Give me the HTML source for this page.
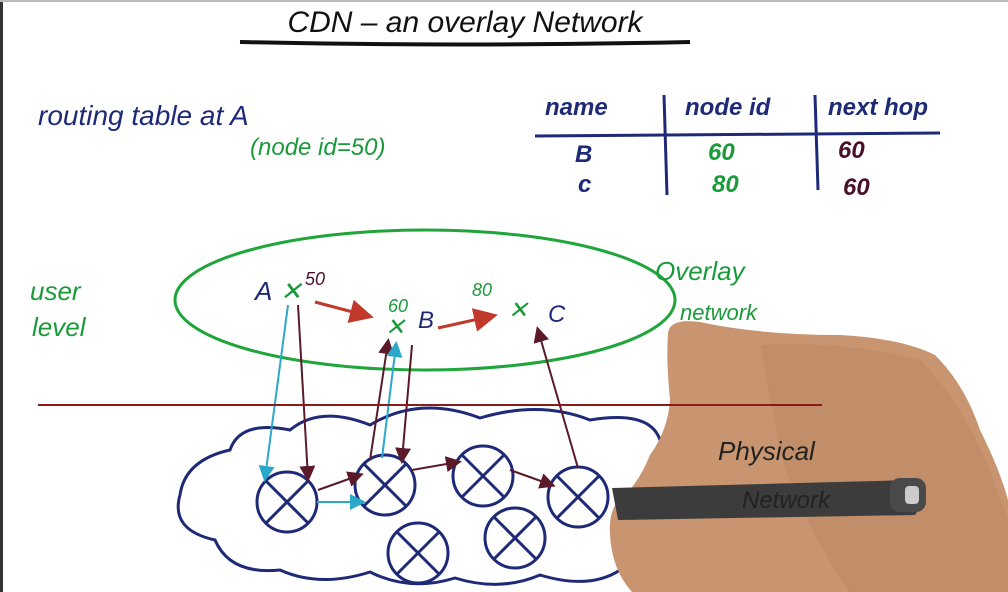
<!DOCTYPE html>
<html><head><meta charset="utf-8">
<style>
html,body{margin:0;padding:0;background:#fff;width:1008px;height:592px;overflow:hidden}
svg{display:block}
text{font-family:"Liberation Sans",sans-serif}
</style></head>
<body>
<svg width="1008" height="592" viewBox="0 0 1008 592">
<defs>
<marker id="ar" markerWidth="8" markerHeight="8" refX="6" refY="4" orient="auto"><path d="M0,0 L8,4 L0,8 z" fill="#c0392b"/></marker>
<marker id="ab" markerWidth="8" markerHeight="8" refX="6" refY="4" orient="auto"><path d="M0,0 L8,4 L0,8 z" fill="#2aa7c9"/></marker>
<marker id="am" markerWidth="8" markerHeight="8" refX="6" refY="4" orient="auto"><path d="M0,0 L8,4 L0,8 z" fill="#5a1a2a"/></marker>
</defs>
<rect width="1008" height="592" fill="#fff"/>
<rect x="0" y="0" width="3" height="592" fill="#333"/>
<rect x="0" y="0" width="1008" height="2" fill="#bbb"/>
<g>
<text x="465" y="32" text-anchor="middle" font-size="30" fill="#111" font-style="italic">CDN – an overlay Network</text>
<path d="M240,42 Q460,47 690,42" stroke="#111" stroke-width="4" fill="none"/>
</g>
<text x="38" y="125" font-size="28" fill="#1e2a78" font-style="italic">routing table at A</text>
<text x="250" y="155" font-size="24" fill="#1a9a3a" font-style="italic">(node id=50)</text>
<g font-style="italic" font-size="24" font-weight="bold">
<text x="545" y="115" fill="#1e2a78">name</text>
<text x="685" y="115" fill="#1e2a78">node id</text>
<text x="828" y="115" fill="#1e2a78">next hop</text>
<line x1="535" y1="136" x2="940" y2="133" stroke="#1e2a78" stroke-width="3"/>
<line x1="664" y1="95" x2="667" y2="195" stroke="#1e2a78" stroke-width="3"/>
<line x1="815" y1="95" x2="818" y2="190" stroke="#1e2a78" stroke-width="3"/>
<text x="575" y="162" fill="#1e2a78">B</text><text x="708" y="160" fill="#1a9a3a">60</text><text x="838" y="158" fill="#4a1028">60</text>
<text x="578" y="192" fill="#1e2a78">c</text><text x="712" y="192" fill="#1a9a3a">80</text><text x="843" y="195" fill="#4a1028">60</text>
</g>
<text x="30" y="300" font-size="26" fill="#1a9a3a" font-style="italic">user</text>
<text x="32" y="336" font-size="26" fill="#1a9a3a" font-style="italic">level</text>
<ellipse cx="425" cy="300" rx="250" ry="70" fill="none" stroke="#1fa53a" stroke-width="3"/>
<text x="655" y="280" font-size="26" fill="#1a9a3a" font-style="italic">Overlay</text>
<g font-style="italic">
<text x="255" y="300" font-size="26" fill="#1e2a78">A</text><text x="280" y="300" font-size="26" fill="#1a9a3a">✕</text><text x="305" y="285" font-size="18" fill="#4a1028">50</text>
<text x="385" y="335" font-size="24" fill="#1a9a3a">✕</text><text x="388" y="312" font-size="18" fill="#1a9a3a">60</text><text x="418" y="328" font-size="24" fill="#1e2a78">B</text>
<text x="508" y="318" font-size="24" fill="#1a9a3a">✕</text><text x="472" y="296" font-size="18" fill="#1a9a3a">80</text><text x="548" y="322" font-size="24" fill="#1e2a78">C</text>
<line x1="315" y1="302" x2="368" y2="316" stroke="#c0392b" stroke-width="3" marker-end="url(#ar)"/>
<line x1="438" y1="328" x2="492" y2="316" stroke="#c0392b" stroke-width="3" marker-end="url(#ar)"/>
</g>
<path d="M230,450 Q240,420 290,430 Q320,405 370,425 Q420,395 480,418 Q540,400 590,420 Q650,410 660,440 Q700,460 690,500 Q720,520 690,545 Q680,575 620,570 Q590,590 540,575 Q500,592 455,578 Q410,592 370,572 Q320,588 280,570 Q230,575 215,540 Q170,530 180,495 Q185,460 230,450 Z" fill="none" stroke="#1e2a78" stroke-width="3"/>
<g stroke="#1e2a78" stroke-width="3" fill="none">
<g transform="translate(287,502)"><circle r="30"/><line x1="-21" y1="-21" x2="21" y2="21"/><line x1="21" y1="-21" x2="-21" y2="21"/></g>
<g transform="translate(385,485)"><circle r="30"/><line x1="-21" y1="-21" x2="21" y2="21"/><line x1="21" y1="-21" x2="-21" y2="21"/></g>
<g transform="translate(483,476)"><circle r="30"/><line x1="-21" y1="-21" x2="21" y2="21"/><line x1="21" y1="-21" x2="-21" y2="21"/></g>
<g transform="translate(578,497)"><circle r="30"/><line x1="-21" y1="-21" x2="21" y2="21"/><line x1="21" y1="-21" x2="-21" y2="21"/></g>
<g transform="translate(418,553)"><circle r="30"/><line x1="-21" y1="-21" x2="21" y2="21"/><line x1="21" y1="-21" x2="-21" y2="21"/></g>
<g transform="translate(515,538)"><circle r="30"/><line x1="-21" y1="-21" x2="21" y2="21"/><line x1="21" y1="-21" x2="-21" y2="21"/></g>
</g>
<g stroke-width="2" fill="none">
<line x1="288" y1="305" x2="265" y2="478" stroke="#2aa7c9" marker-end="url(#ab)"/>
<line x1="298" y1="305" x2="308" y2="478" stroke="#5a1a2a" marker-end="url(#am)"/>
<line x1="317" y1="502" x2="362" y2="502" stroke="#2aa7c9" marker-end="url(#ab)"/>
<line x1="370" y1="460" x2="388" y2="342" stroke="#5a1a2a" marker-end="url(#am)"/>
<line x1="382" y1="458" x2="396" y2="345" stroke="#2aa7c9" marker-end="url(#ab)"/>
<line x1="412" y1="345" x2="402" y2="460" stroke="#5a1a2a" marker-end="url(#am)"/>
<line x1="318" y1="490" x2="360" y2="475" stroke="#5a1a2a" marker-end="url(#am)"/>
<line x1="412" y1="470" x2="458" y2="462" stroke="#5a1a2a" marker-end="url(#am)"/>
<line x1="510" y1="470" x2="552" y2="485" stroke="#5a1a2a" marker-end="url(#am)"/>
<line x1="578" y1="468" x2="538" y2="330" stroke="#5a1a2a" marker-end="url(#am)"/>
</g>
<g>
<path d="M668,333 Q670,318 700,322 Q760,335 840,335 Q900,338 935,355 Q965,385 980,430 Q1000,470 1008,500 L1008,592 L632,592 Q612,570 610,535 Q608,505 625,495 Q640,480 650,455 Q668,430 670,400 Q666,360 668,333 Z" fill="#c99570"/>
<path d="M760,345 Q840,340 920,360 Q960,400 990,470 L1008,520 L1008,592 L850,592 Q800,520 780,450 Z" fill="#b98462" opacity="0.45"/>
<path d="M612,488 L915,480 Q928,498 915,515 L618,520 Z" fill="#3c3c3c"/>
<rect x="890" y="478" width="36" height="34" rx="10" fill="#4a4a4a"/>
<rect x="905" y="486" width="14" height="18" rx="4" fill="#ccc"/>
</g>
<line x1="38" y1="405" x2="822" y2="405" stroke="#8b1a1a" stroke-width="2"/>
<text x="680" y="320" font-size="22" fill="#1a9a3a" font-style="italic">network</text>
<text x="718" y="460" font-size="26" fill="#222" font-style="italic">Physical</text>
<text x="742" y="508" font-size="24" fill="#222" font-style="italic">Network</text>
</svg>
</body></html>
